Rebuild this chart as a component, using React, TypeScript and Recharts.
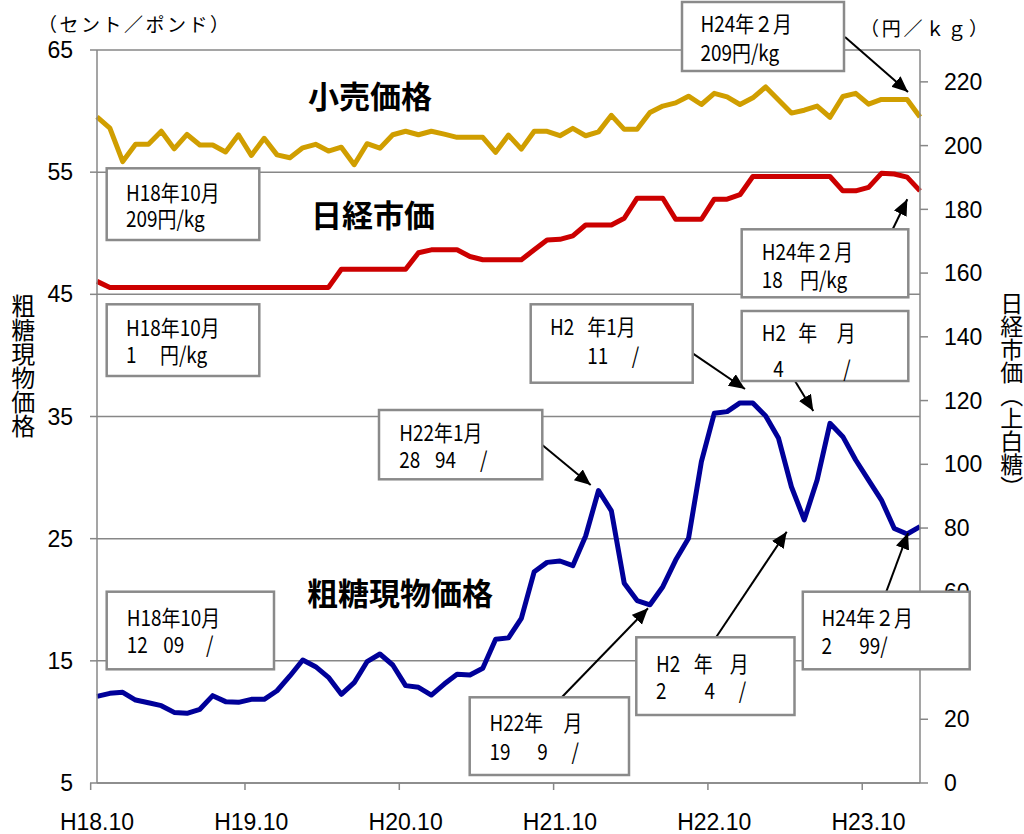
import React from 'react';
import { ComposedChart, Line, XAxis, YAxis, CartesianGrid } from 'recharts';

// ---- data ----
const months = [
  'H18.10', 'H18.11', 'H18.12',
  'H19.1', 'H19.2', 'H19.3', 'H19.4', 'H19.5', 'H19.6', 'H19.7', 'H19.8', 'H19.9', 'H19.10', 'H19.11', 'H19.12',
  'H20.1', 'H20.2', 'H20.3', 'H20.4', 'H20.5', 'H20.6', 'H20.7', 'H20.8', 'H20.9', 'H20.10', 'H20.11', 'H20.12',
  'H21.1', 'H21.2', 'H21.3', 'H21.4', 'H21.5', 'H21.6', 'H21.7', 'H21.8', 'H21.9', 'H21.10', 'H21.11', 'H21.12',
  'H22.1', 'H22.2', 'H22.3', 'H22.4', 'H22.5', 'H22.6', 'H22.7', 'H22.8', 'H22.9', 'H22.10', 'H22.11', 'H22.12',
  'H23.1', 'H23.2', 'H23.3', 'H23.4', 'H23.5', 'H23.6', 'H23.7', 'H23.8', 'H23.9', 'H23.10', 'H23.11', 'H23.12',
  'H24.1', 'H24.2',
];

// 粗糖現物価格 (セント／ポンド, left axis)
const rawSugar = [
  12.09, 12.34, 12.42,
  11.79, 11.57, 11.33, 10.78, 10.70, 11.03, 12.15, 11.66, 11.60, 11.85, 11.85, 12.55,
  13.76, 15.07, 14.52, 13.65, 12.26, 13.21, 14.93, 15.56, 14.66, 12.97, 12.83, 12.20,
  13.10, 13.90, 13.84, 14.39, 16.76, 16.88, 18.48, 22.30, 23.06, 23.17, 22.79, 25.22,
  28.94, 27.28, 21.35, 19.93, 19.59, 21.07, 23.25, 25.03, 31.30, 35.26, 35.40, 36.11,
  36.11, 35.04, 33.21, 29.25, 26.54, 29.80, 34.44, 33.35, 31.44, 29.80, 28.16, 25.83,
  25.38, 25.99,
];

// 小売価格 (円／kg, right axis)
const retailPrice = [
  209, 205.5, 195,
  200.4, 200.4, 204.5, 199, 203.5, 200.2, 200.2, 198, 203.4, 196.9, 202.3, 197.1,
  196.2, 199.3, 200.4, 198.3, 199.5, 194, 200.6, 199.2, 203.4, 204.5, 203.4, 204.5,
  203.6, 202.6, 202.6, 202.6, 197.9, 203.3, 198.9, 204.5, 204.5, 203.1, 205.4, 203.1,
  204.3, 209.5, 205.1, 205.1, 210.4, 212.4, 213.4, 215.5, 212.9, 216.4, 215.3, 212.9,
  215, 218.4, 214.3, 210.2, 211.1, 212.4, 208.9, 215.4, 216.4, 213, 214.5, 214.5,
  214.5, 209,
];

// 日経市価（上白糖） (円／kg, right axis)
const nikkeiPrice = [
  157.4, 155.5, 155.5,
  155.5, 155.5, 155.5, 155.5, 155.5, 155.5, 155.5, 155.5, 155.5, 155.5, 155.5, 155.5,
  155.5, 155.5, 155.5, 155.5, 161.2, 161.2, 161.2, 161.2, 161.2, 161.2, 166.4, 167.3,
  167.3, 167.3, 165.2, 164.2, 164.2, 164.2, 164.2, 167.3, 170.4, 170.6, 171.7, 175.1,
  175.1, 175.1, 177.2, 183.5, 183.5, 183.5, 176.9, 176.9, 176.9, 183.2, 183.2, 184.6,
  190.3, 190.3, 190.3, 190.3, 190.3, 190.3, 190.3, 185.8, 185.8, 186.9, 191.3, 191.1,
  190.1, 185.8,
];

const leftTicks = [5, 15, 25, 35, 45, 55, 65];
const rightTicks = [0, 20, 40, 60, 80, 100, 120, 140, 160, 180, 200, 220];

const data = months.map((m, i) => ({
  month: m,
  raw: rawSugar[i],
  retail: retailPrice[i],
  nikkei: nikkeiPrice[i],
}));

// ---- annotation callouts (layout) ----
type Chunk = [number, string];
type Ann = { box: [number, number, number, number]; lines: { y: number; chunks: Chunk[] }[]; arrow?: [number, number, number, number] };

const annotations: Ann[] = [
  { box: [682, 2, 162, 69], lines: [{ y: 32, chunks: [[700.5, 'H24年２月']] }, { y: 61, chunks: [[700.5, '209円/kg']] }], arrow: [845, 37, 908, 92] },
  { box: [106.7, 168.3, 152.6, 71.7], lines: [{ y: 201, chunks: [[126, 'H18年10月']] }, { y: 227, chunks: [[126, '209円/kg']] }] },
  { box: [106.7, 304.3, 152.6, 71.7], lines: [{ y: 336, chunks: [[126, 'H18年10月']] }, { y: 363, chunks: [[126, '1'], [160, '円/kg']] }] },
  { box: [741.7, 229.3, 166.6, 68], lines: [{ y: 259.5, chunks: [[761.7, 'H24年２月']] }, { y: 288, chunks: [[761.7, '18'], [800, '円/kg']] }], arrow: [892.7, 229.3, 907.3, 199.3] },
  { box: [530.7, 304.3, 162, 78.4], lines: [{ y: 334.5, chunks: [[550, 'H2'], [587.3, '年1月']] }, { y: 364, chunks: [[587.3, '11'], [631.7, '/']] }], arrow: [692.7, 353.3, 745, 389] },
  { box: [741.7, 311, 166.6, 70], lines: [{ y: 341, chunks: [[761.7, 'H2'], [798.3, '年'], [836.7, '月']] }, { y: 376.5, chunks: [[773.3, '4'], [843.3, '/']] }], arrow: [795, 381, 813.3, 411] },
  { box: [379, 410, 163.3, 69.3], lines: [{ y: 440.5, chunks: [[399.3, 'H22年1月']] }, { y: 468, chunks: [[399.3, '28'], [435, '94'], [480, '/']] }], arrow: [542.3, 445, 590.7, 485] },
  { box: [106.7, 591.7, 167.3, 77.6], lines: [{ y: 626, chunks: [[126.7, 'H18年10月']] }, { y: 653, chunks: [[126.7, '12'], [163.3, '09'], [206, '/']] }] },
  { box: [469.7, 697.3, 159.3, 77.7], lines: [{ y: 731, chunks: [[489.5, 'H22年'], [563.6, '月']] }, { y: 760, chunks: [[489.5, '19'], [537.3, '9'], [571.5, '/']] }], arrow: [561.8, 697.3, 648, 608.3] },
  { box: [636.3, 637.3, 158.2, 77.7], lines: [{ y: 672, chunks: [[656, 'H2'], [693.8, '年'], [729.8, '月']] }, { y: 699, chunks: [[656, '2'], [704.6, '4'], [738.8, '/']] }], arrow: [716.1, 637.3, 786.7, 531.7] },
  { box: [802.8, 591.7, 166.9, 77.6], lines: [{ y: 626, chunks: [[821.5, 'H24年２月']] }, { y: 653.5, chunks: [[821.5, '2'], [859.3, '99/']] }], arrow: [886.3, 591.7, 908, 533] },
];

const GRID = '#878787';
const AX_FONT = '"Liberation Sans", Arial, sans-serif';
const JP_FONT = '"Noto Sans CJK JP", sans-serif';

const BAND = 823 / 65;

const XTick = (props: any) => {
  const { x, y, payload } = props;
  return (
    <g>
      <line x1={x - BAND / 2} x2={x - BAND / 2} y1={y - 7} y2={y} stroke={GRID} strokeWidth={1.5} />
      <text x={x} y={y + 40} textAnchor="middle" fontSize={23} fontFamily={AX_FONT} fill="#000">
        {payload.value}
      </text>
    </g>
  );
};

const Overlay = () => (
  <svg width={1024} height={834} style={{ position: 'absolute', left: 0, top: 0, pointerEvents: 'none' }}>
    <defs>
      <marker id="ah" markerUnits="userSpaceOnUse" markerWidth={18} markerHeight={16} refX={16} refY={7} orient="auto">
        <path d="M0,0 L16,7 L0,14 Z" fill="#000" />
      </marker>
    </defs>
    {/* units */}
    <text x={38} y={32} fontSize={19} letterSpacing={2.5} fontFamily={JP_FONT} fill="#000">（セント／ポンド）</text>
    <text x={860} y={36} fontSize={19} letterSpacing={2.8} fontFamily={JP_FONT} fill="#000">（円／ｋｇ）</text>
    {/* axis titles */}
    <text x={23.3} y={294} fontSize={24} fontFamily={JP_FONT} fill="#000" style={{ writingMode: 'vertical-rl' as any }}>粗糖現物価格</text>
    <text x={1011.7} y={292} fontSize={23} fontFamily={JP_FONT} fill="#000" style={{ writingMode: 'vertical-rl' as any }}>日経市価（上白糖）</text>
    {/* series labels */}
    <text x={308} y={107.6} fontSize={31} fontWeight={700} fontFamily={JP_FONT} fill="#000">小売価格</text>
    <text x={311} y={226.5} fontSize={31} fontWeight={700} fontFamily={JP_FONT} fill="#000">日経市価</text>
    <text x={307} y={605.3} fontSize={31} fontWeight={700} fontFamily={JP_FONT} fill="#000">粗糖現物価格</text>
    {/* callouts */}
    {annotations.map((a, i) => (
      <g key={i}>
        {a.arrow && (
          <line x1={a.arrow[0]} y1={a.arrow[1]} x2={a.arrow[2]} y2={a.arrow[3]} stroke="#000" strokeWidth={2} markerEnd="url(#ah)" />
        )}
        <rect x={a.box[0]} y={a.box[1]} width={a.box[2]} height={a.box[3]} fill="#fff" stroke="#8a8a8a" strokeWidth={2.5} />
        {a.lines.map((ln, j) =>
          ln.chunks.map((c, k) => (
            <text key={`${j}-${k}`} transform={`translate(${c[0]},${ln.y}) scale(0.86,1)`} fontSize={22} fontFamily={JP_FONT} fill="#000">
              {c[1]}
            </text>
          ))
        )}
      </g>
    ))}
  </svg>
);

export default function App() {
  return (
    <div style={{ position: 'absolute', left: 0, top: 0, width: 1024, height: 834, background: '#fff' }}>
      <ComposedChart
        width={1024}
        height={834}
        data={data}
        margin={{ top: 50, right: 44, bottom: 11, left: 37 }}
      >
        <CartesianGrid yAxisId="left" vertical={false} stroke={GRID} strokeWidth={1.5} />
        <XAxis
          dataKey="month"
          interval={11}
          height={40}
          tickLine={false}
          tickSize={7}
          tickMargin={0}
          axisLine={{ stroke: GRID, strokeWidth: 1.5 }}
          tick={<XTick />}
        />
        <YAxis
          yAxisId="left"
          width={60}
          domain={[5, 65]}
          ticks={leftTicks}
          interval={0}
          tickSize={7}
          tickMargin={17}
          axisLine={{ stroke: GRID, strokeWidth: 1.5 }}
          tickLine={{ stroke: GRID, strokeWidth: 1.5 }}
          tick={{ fill: '#000', fontSize: 23, fontFamily: AX_FONT }}
        />
        <YAxis
          yAxisId="right"
          orientation="right"
          width={60}
          domain={[0, 230]}
          ticks={rightTicks}
          interval={0}
          tickSize={8}
          tickMargin={16}
          axisLine={{ stroke: GRID, strokeWidth: 1.5 }}
          tickLine={{ stroke: GRID, strokeWidth: 1.5 }}
          tick={{ fill: '#000', fontSize: 23, fontFamily: AX_FONT, textAnchor: 'start' }}
        />
        <Line yAxisId="right" dataKey="retail" stroke="#D09E00" strokeWidth={5} strokeLinejoin="round" dot={false} isAnimationActive={false} />
        <Line yAxisId="right" dataKey="nikkei" stroke="#CC0000" strokeWidth={5} strokeLinejoin="round" dot={false} isAnimationActive={false} />
        <Line yAxisId="left" dataKey="raw" stroke="#000099" strokeWidth={5} strokeLinejoin="round" dot={false} isAnimationActive={false} />
      </ComposedChart>
      <Overlay />
    </div>
  );
}
